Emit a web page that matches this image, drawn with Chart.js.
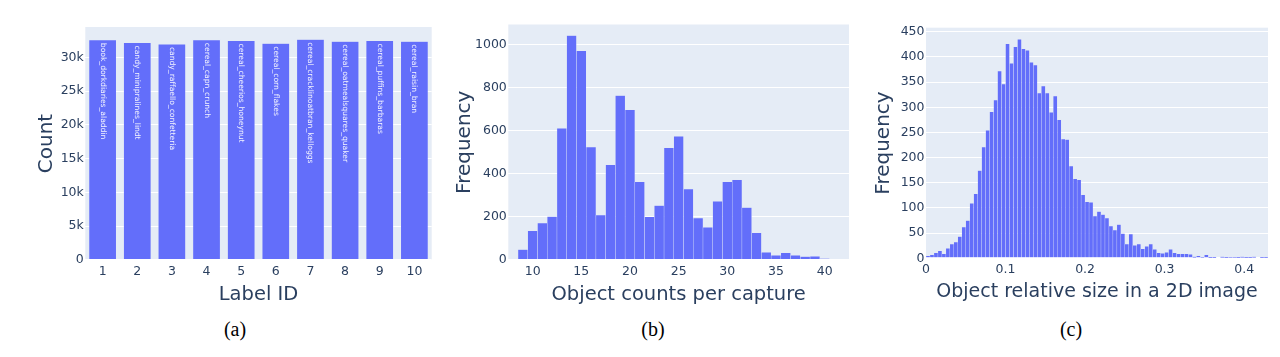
<!DOCTYPE html>
<html><head><meta charset="utf-8">
<script src="https://cdn.jsdelivr.net/npm/chart.js@4.4.1/dist/chart.umd.min.js"></script>
<style>
html,body{margin:0;padding:0;background:#fff;width:1280px;height:357px;overflow:hidden;position:relative;}
.panel{position:absolute;top:0;height:315px;}
.cap{position:absolute;font-family:"Liberation Serif","Times New Roman",serif;font-size:20px;line-height:20px;color:#000;transform:translateX(-50%);top:319px;white-space:nowrap;}
</style></head><body>
<div class="panel" style="left:0;width:440px"><canvas id="ca"></canvas></div>
<div class="panel" style="left:440px;width:420px"><canvas id="cb"></canvas></div>
<div class="panel" style="left:860px;width:420px"><canvas id="cc"></canvas></div>
<div class="cap" style="left:235px">(a)</div>
<div class="cap" style="left:653px">(b)</div>
<div class="cap" style="left:1071px">(c)</div>
<script>
// ---- data: panel (a)
const labelIds = ['1','2','3','4','5','6','7','8','9','10'];
const labelNames = ['book_dorkdiaries_aladdin','candy_minipralines_lindt','candy_raffaello_confetteria','cereal_capn_crunch','cereal_cheerios_honeynut','cereal_corn_flakes','cereal_cracklinoatbran_kelloggs','cereal_oatmealsquares_quaker','cereal_puffins_barbaras','cereal_raisin_bran'];
const labelCounts = [32600, 32200, 32000, 32600, 32500, 32100, 32700, 32400, 32500, 32400];
const countAxisTicks = [0, 5000, 10000, 15000, 20000, 25000, 30000];

// ---- data: panel (b)
const countBins = [9,10,11,12,13,14,15,16,17,18,19,20,21,22,23,24,25,26,27,28,29,30,31,32,33,34,35,36,37,38,39,40];
const countFreq = [48,136,172,202,612,1042,972,524,209,442,764,698,363,200,253,521,575,330,195,152,273,363,372,243,126,36,22,33,22,16,17,6];
const countTicks = [10,15,20,25,30,35,40];
const countFreqTicks = [0,200,400,600,800,1000];

// ---- data: panel (c)
const sizeBins = [0.0025,0.0075,0.0125,0.0175,0.0225,0.0275,0.0325,0.0375,0.0425,0.0475,
0.0525,0.0575,0.0625,0.0675,0.0725,0.0775,0.0825,0.0875,0.0925,0.0975,
0.1025,0.1075,0.1125,0.1175,0.1225,0.1275,0.1325,0.1375,0.1425,0.1475,
0.1525,0.1575,0.1625,0.1675,0.1725,0.1775,0.1825,0.1875,0.1925,0.1975,
0.2025,0.2075,0.2125,0.2175,0.2225,0.2275,0.2325,0.2375,0.2425,0.2475,
0.2525,0.2575,0.2625,0.2675,0.2725,0.2775,0.2825,0.2875,0.2925,0.2975,
0.3025,0.3075,0.3125,0.3175,0.3225,0.3275,0.3325,0.3375,0.3425,0.3475,
0.3525,0.3575,0.3625,0.3675,0.3725,0.3775,0.3825,0.3875,0.3925,0.3975,
0.4025,0.4075,0.4125,0.4175,0.4225,0.4275];
const sizeFreq = [5,7,11,15,9,20,28,32,43,62,
75,109,128,174,221,254,291,314,372,346,
426,387,420,435,416,413,389,384,328,342,
328,290,322,275,237,236,183,158,156,126,
112,111,84,93,87,80,64,56,67,49,
28,48,26,28,19,24,28,18,11,10,
12,18,11,9,9,9,8,3,5,2,
7,1,1,0,3,1,2,2,1,3,
1,1,3,0,1,1];
const sizeTicks = [0,0.1,0.2,0.3,0.4];
const sizeFreqTicks = [0,50,100,150,200,250,300,350,400,450];

// ---- styling
const ink = '#2a3f5f';
const plotBg = '#E5ECF6';
const barColor = '#636EFA';
Chart.defaults.font.family = '"DejaVu Sans", Verdana, sans-serif';
Chart.defaults.color = ink;
Chart.defaults.animation = false;

const bgPlugin = {
  id: 'plotbg',
  beforeDraw(chart) {
    const {ctx, chartArea: a} = chart;
    ctx.save();
    ctx.fillStyle = plotBg;
    ctx.fillRect(a.left, a.top, a.right - a.left, a.bottom - a.top);
    ctx.restore();
  }
};

const barTextPlugin = {
  id: 'bartext',
  afterDatasetsDraw(chart) {
    if (chart.canvas.id !== 'ca') return;
    const {ctx} = chart;
    const meta = chart.getDatasetMeta(0);
    ctx.save();
    ctx.fillStyle = 'rgba(255,255,255,0.92)';
    ctx.font = '7.6px "DejaVu Sans"';
    ctx.textAlign = 'left';
    ctx.textBaseline = 'middle';
    meta.data.forEach((bar, i) => {
      ctx.save();
      ctx.translate(bar.x, bar.y + 3);
      ctx.rotate(Math.PI / 2);
      ctx.fillText(labelNames[i], 0, 0);
      ctx.restore();
    });
    ctx.restore();
  }
};

function yScale(o) {
  return {
    min: 0, max: o.max,
    afterFit(s) { s.width = o.width; },
    afterBuildTicks(s) { s.ticks = o.ticks.map(v => ({value: v})); },
    border: {display: false},
    grid: {color: '#ffffff', lineWidth: c => (c.tick && c.tick.value === 0) ? 2 : 1, drawTicks: false},
    ticks: {color: ink, font: {size: 12.5}, padding: 1.5, callback: o.fmt || (v => String(v))},
    title: {display: true, text: o.title, color: ink, font: {size: 20}, padding: {top: o.tpad, bottom: 0}}
  };
}
function xCommon(o) {
  return {
    afterFit(s) { s.height = o.height; },
    border: {display: false},
    grid: {display: false, drawTicks: false},
    ticks: {color: ink, font: {size: 12.5}, padding: 4, maxRotation: 0, autoSkip: false},
    title: {display: true, text: o.title, color: ink, font: {size: o.fsize}, padding: {top: 0, bottom: o.tpad}}
  };
}

// Panel (a)
new Chart(document.getElementById('ca'), {
  type: 'bar',
  data: {labels: labelIds, datasets: [{data: labelCounts, backgroundColor: barColor, borderColor: 'rgba(229,236,246,0.7)', borderWidth: 0.5, categoryPercentage: 0.8, barPercentage: 1}]},
  options: {
    responsive: true, maintainAspectRatio: false,
    layout: {padding: {top: 27, right: 8.3, left: 0, bottom: 0}},
    plugins: {legend: {display: false}, tooltip: {enabled: false}},
    scales: {
      x: Object.assign(xCommon({height: 55, title: 'Label ID', tpad: 8, fsize: 19.5}), {type: 'category'}),
      y: yScale({max: 34500, width: 85.3, ticks: countAxisTicks, title: 'Count', tpad: 35, fmt: v => v === 0 ? '0' : (v / 1000) + 'k'})
    }
  },
  plugins: [bgPlugin, barTextPlugin]
});

// Panel (b)
new Chart(document.getElementById('cb'), {
  type: 'bar',
  data: {datasets: [{data: countBins.map((b, i) => ({x: b, y: countFreq[i]})), backgroundColor: barColor, borderColor: 'rgba(229,236,246,0.45)', borderWidth: 0.5, categoryPercentage: 1, barPercentage: 1}]},
  options: {
    responsive: true, maintainAspectRatio: false,
    layout: {padding: {top: 24.5, right: 11, left: 0, bottom: 0}},
    plugins: {legend: {display: false}, tooltip: {enabled: false}},
    scales: {
      x: Object.assign(xCommon({height: 55, title: 'Object counts per capture', tpad: 8, fsize: 19.5}), {
        type: 'linear', min: 7.5, max: 42.5, offset: false,
        afterBuildTicks(s) { s.ticks = countTicks.map(v => ({value: v})); }
      }),
      y: yScale({max: 1094, width: 68.3, ticks: countFreqTicks, title: 'Frequency', tpad: 13})
    }
  },
  plugins: [bgPlugin]
});

// Panel (c)
new Chart(document.getElementById('cc'), {
  type: 'bar',
  data: {datasets: [{data: sizeBins.map((b, i) => ({x: b, y: sizeFreq[i]})), backgroundColor: barColor, borderColor: 'rgba(229,236,246,0.25)', borderWidth: 0.5, categoryPercentage: 1, barPercentage: 1}]},
  options: {
    responsive: true, maintainAspectRatio: false,
    layout: {padding: {top: 27.7, right: 12, left: 0, bottom: 0}},
    plugins: {legend: {display: false}, tooltip: {enabled: false}},
    scales: {
      x: Object.assign(xCommon({height: 56.7, title: 'Object relative size in a 2D image', tpad: 12, fsize: 19}), {
        type: 'linear', min: 0, max: 0.43, offset: false,
        afterBuildTicks(s) { s.ticks = sizeTicks.map(v => ({value: v})); }
      }),
      y: yScale({max: 458, width: 66, ticks: sizeFreqTicks, title: 'Frequency', tpad: 12})
    }
  },
  plugins: [bgPlugin]
});
</script>
</body></html>
